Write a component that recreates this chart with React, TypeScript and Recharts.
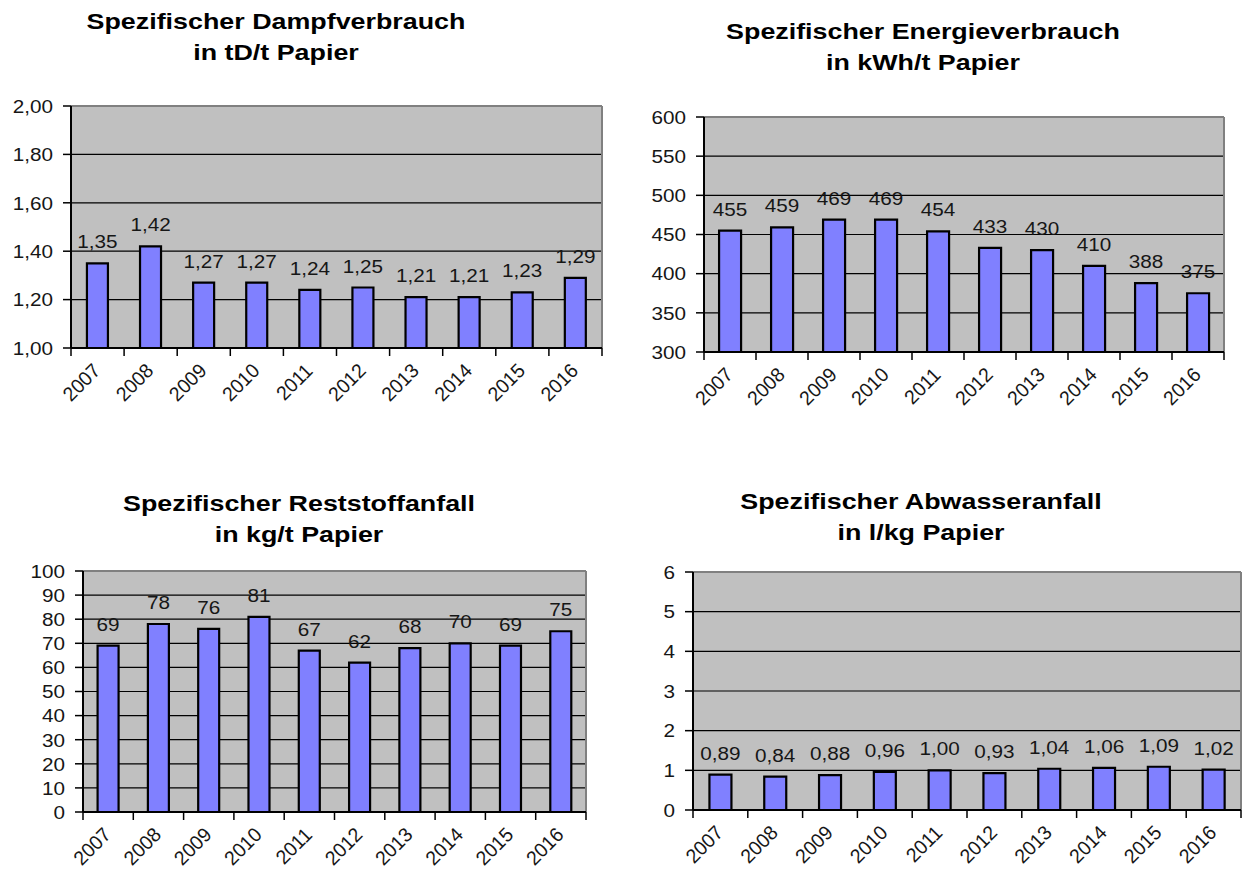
import { BarChart, Bar, XAxis, YAxis, CartesianGrid, LabelList } from 'recharts';

const years = ['2007', '2008', '2009', '2010', '2011', '2012', '2013', '2014', '2015', '2016'];

const dampf = [1.35, 1.42, 1.27, 1.27, 1.24, 1.25, 1.21, 1.21, 1.23, 1.29];
const energie = [455, 459, 469, 469, 454, 433, 430, 410, 388, 375];
const reststoff = [69, 78, 76, 81, 67, 62, 68, 70, 69, 75];
const abwasser = [0.89, 0.84, 0.88, 0.96, 1.0, 0.93, 1.04, 1.06, 1.09, 1.02];

const dampfTicks = [1, 1.2, 1.4, 1.6, 1.8, 2];
const energieTicks = [300, 350, 400, 450, 500, 550, 600];
const reststoffTicks = [0, 10, 20, 30, 40, 50, 60, 70, 80, 90, 100];
const abwasserTicks = [0, 1, 2, 3, 4, 5, 6];

const FONT = '"Liberation Sans", Arial, sans-serif';
const TEXT = '#161616';
const XH = 60;

const comma = (d: number) => (v: number) => Number(v).toFixed(d).replace('.', ',');

interface Box { left: number; top: number; width: number; height: number }
interface Plot { x0: number; y0: number; x1: number; y1: number }

interface PanelProps {
  box: Box;
  plot: Plot;
  title: [string, string];
  titleX: number;
  titleY: number;
  values: number[];
  ticks: number[];
  tickDec: number;
  labelDec: number;
  gap: string;
}

function Panel({ box, plot, title, titleX, titleY, values, ticks, tickDec, labelDec, gap }: PanelProps) {
  const data = years.map((y, i) => ({ year: y, value: values[i] }));
  const yW = plot.x0 - box.left;
  const mTop = plot.y0 - box.top;
  const mRight = box.left + box.width - plot.x1;
  const mBottom = box.top + box.height - plot.y1 - XH;
  const plotW = plot.x1 - plot.x0;
  const bw = plotW / years.length;
  const fmtTick = comma(tickDec);
  const fmtLabel = comma(labelDec);

  // excel style: tick marks sit between the categories, labels turned 45 degrees
  const xTick = (p: any) => {
    const { x, y, payload, index } = p;
    return (
      <g>
        <line x1={x - bw / 2} x2={x - bw / 2} y1={y} y2={y + 8} stroke='#000' strokeWidth={1.5} />
        {index === years.length - 1 && (
          <line x1={x + bw / 2} x2={x + bw / 2} y1={y} y2={y + 8} stroke='#000' strokeWidth={1.5} />
        )}
        <text
          transform={`translate(${x + 4},${y + 24}) rotate(-45) scale(1.02,1.05)`}
          textAnchor='end'
          fontSize={19}
          fontFamily={FONT}
          fill={TEXT}
        >
          {payload.value}
        </text>
      </g>
    );
  };

  const yTick = (p: any) => (
    <text
      transform={`translate(${p.x},${p.y}) scale(1.15,1.05)`}
      textAnchor='end'
      dy='0.36em'
      fontSize={18}
      fontFamily={FONT}
      fill={TEXT}
    >
      {fmtTick(p.payload.value)}
    </text>
  );

  const label = (p: any) => (
    <text
      transform={`translate(${Number(p.x) + Number(p.width) / 2},${Number(p.y) - 15}) scale(1.15,1.05)`}
      textAnchor='middle'
      fontSize={18}
      fontFamily={FONT}
      fill={TEXT}
    >
      {fmtLabel(p.value)}
    </text>
  );

  return (
    <>
      <div
        style={{
          position: 'absolute',
          left: titleX - 300,
          top: titleY,
          width: 600,
          textAlign: 'center',
          fontFamily: FONT,
          fontWeight: 'bold',
          fontSize: 22,
          lineHeight: '31px',
          color: '#000',
          transform: 'scaleX(1.22)',
        }}
      >
        {title[0]}
        <br />
        {title[1]}
      </div>
      <div style={{ position: 'absolute', left: box.left, top: box.top }}>
        <BarChart
          width={box.width}
          height={box.height}
          data={data}
          margin={{ top: mTop, right: mRight, left: 0, bottom: mBottom }}
          barCategoryGap={gap}
          style={{ overflow: 'visible' }}
        >
          <CartesianGrid vertical={false} fill='#c0c0c0' fillOpacity={1} stroke='#000' strokeWidth={1.2} />
          <CartesianGrid
            horizontalPoints={[mTop]}
            verticalPoints={[yW + plotW]}
            stroke='#808080'
            strokeWidth={2}
          />
          <XAxis
            dataKey='year'
            height={XH}
            interval={0}
            tickSize={0}
            tickMargin={0}
            tick={xTick}
            axisLine={{ stroke: '#000', strokeWidth: 2 }}
          />
          <YAxis
            width={yW}
            domain={[ticks[0], ticks[ticks.length - 1]]}
            ticks={ticks}
            interval={0}
            allowDataOverflow
            tickSize={8}
            tickMargin={10}
            tick={yTick}
            tickLine={{ stroke: '#000', strokeWidth: 1.5 }}
            axisLine={{ stroke: '#000', strokeWidth: 2 }}
          />
          <Bar dataKey='value' fill='#8080ff' stroke='#000' strokeWidth={2.2} isAnimationActive={false}>
            <LabelList dataKey='value' content={label} />
          </Bar>
        </BarChart>
      </div>
    </>
  );
}

export default function App() {
  return (
    <div style={{ position: 'absolute', left: 0, top: 0, width: 1247, height: 873, background: '#fff' }}>
      <Panel
        box={{ left: 0, top: 0, width: 623, height: 440 }}
        plot={{ x0: 71, y0: 106, x1: 602, y1: 348 }}
        title={['Spezifischer Dampfverbrauch', 'in tD/t Papier']}
        titleX={276}
        titleY={6}
        values={dampf}
        ticks={dampfTicks}
        tickDec={2}
        labelDec={2}
        gap='30%'
      />
      <Panel
        box={{ left: 623, top: 0, width: 624, height: 440 }}
        plot={{ x0: 704, y0: 117, x1: 1224, y1: 352 }}
        title={['Spezifischer Energieverbrauch', 'in kWh/t Papier']}
        titleX={923}
        titleY={16}
        values={energie}
        ticks={energieTicks}
        tickDec={0}
        labelDec={0}
        gap='29%'
      />
      <Panel
        box={{ left: 0, top: 440, width: 623, height: 433 }}
        plot={{ x0: 83, y0: 571, x1: 586, y1: 812 }}
        title={['Spezifischer Reststoffanfall', 'in kg/t Papier']}
        titleX={299}
        titleY={488}
        values={reststoff}
        ticks={reststoffTicks}
        tickDec={0}
        labelDec={0}
        gap='29%'
      />
      <Panel
        box={{ left: 623, top: 440, width: 624, height: 433 }}
        plot={{ x0: 693, y0: 572, x1: 1241, y1: 810 }}
        title={['Spezifischer Abwasseranfall', 'in l/kg Papier']}
        titleX={921}
        titleY={486}
        values={abwasser}
        ticks={abwasserTicks}
        tickDec={0}
        labelDec={2}
        gap='30%'
      />
    </div>
  );
}
